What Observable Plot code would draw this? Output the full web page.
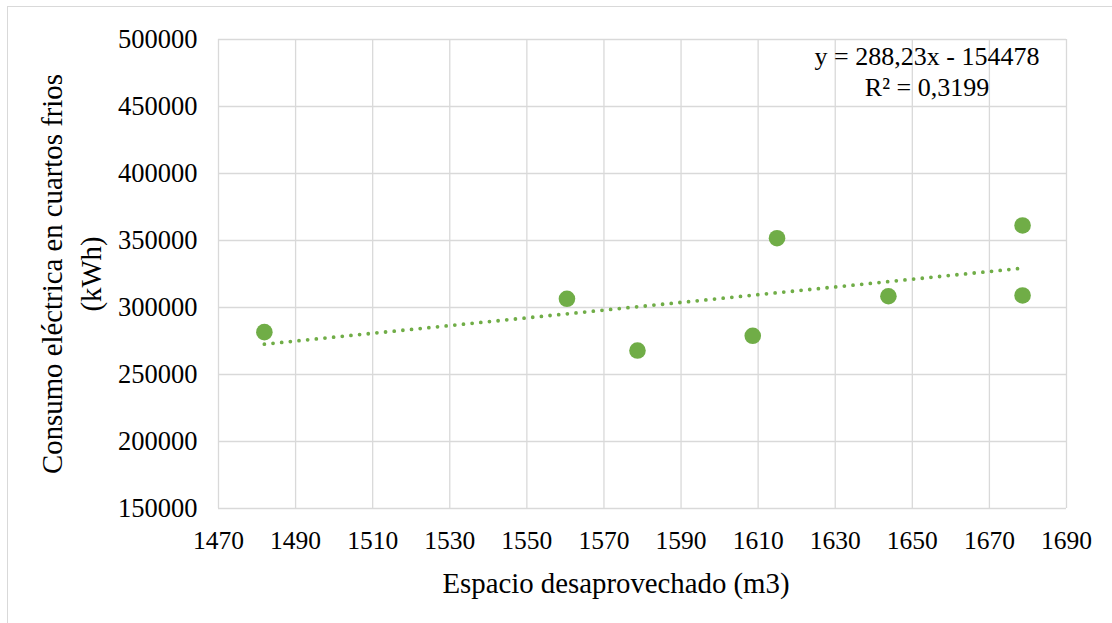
<!DOCTYPE html>
<html>
<head>
<meta charset="utf-8">
<script src="https://cdn.jsdelivr.net/npm/d3@7"></script>
<script src="https://cdn.jsdelivr.net/npm/@observablehq/plot@0.6"></script>
<style>
  html, body { margin: 0; padding: 0; background: #fff; }
  #wrap { position: relative; width: 1112px; height: 623px; overflow: hidden; }
  #border { position: absolute; left: 7px; top: 6px; width: 1200px; height: 700px;
            border-left: 1.4px solid #d9d9d9; border-top: 1.4px solid #d9d9d9; pointer-events: none; }
  #chart svg { display: block; }
</style>
</head>
<body>
<div id="wrap"><div id="chart"></div><div id="border"></div></div>
<script>
// ---- data ----
const espacio = [1481.9, 1560.4, 1578.7, 1608.6, 1614.9, 1643.8, 1678.6, 1678.6];
const consumo = [281600, 306500, 267900, 278900, 351700, 308400, 361200, 309000];
const xTicks = [1470, 1490, 1510, 1530, 1550, 1570, 1590, 1610, 1630, 1650, 1670, 1690];
const yTicks = [150000, 200000, 250000, 300000, 350000, 400000, 450000, 500000];
const trendSlope = 288.23;
const trendIntercept = -154478;
const equationLines = ["y = 288,23x - 154478", "R² = 0,3199"];
const xTitle = "Espacio desaprovechado (m3)";
const yTitleLines = ["Consumo eléctrica en cuartos frios", "(kWh)"];

// ---- derived tables ----
const points = espacio.map((x, i) => ({x, y: consumo[i]}));
const xExtent = d3.extent(espacio);
const trend = xExtent.map(x => ({x, y: trendSlope * x + trendIntercept}));

const green = "#70AD47";
const gridColor = "#d9d9d9";
const font = "'Liberation Serif', 'Times New Roman', serif";

const chart = Plot.plot({
  width: 1112,
  height: 623,
  marginLeft: 218,
  marginRight: 46,
  marginTop: 39,
  marginBottom: 115,
  style: {fontFamily: font, fontSize: "26px", color: "#000", background: "#fff"},
  x: {domain: [1470, 1690]},
  y: {domain: [150000, 500000]},
  marks: [
    Plot.gridX(xTicks, {stroke: gridColor, strokeOpacity: 1, strokeWidth: 1.3}),
    Plot.gridY(yTicks, {stroke: gridColor, strokeOpacity: 1, strokeWidth: 1.3}),
    Plot.axisX(xTicks, {tickSize: 0, tickPadding: 22, tickFormat: d => String(d), label: null, fontSize: 25.5}),
    Plot.axisY(yTicks, {tickSize: 0, tickPadding: 21, tickFormat: d => String(d), label: null, fontSize: 26.5}),
    Plot.line(trend, {x: "x", y: "y", stroke: green, strokeWidth: 3.8,
      strokeDasharray: "0 8.7", strokeLinecap: "round"}),
    Plot.dot(points, {x: "x", y: "y", r: 8.3, fill: green, stroke: "none"}),
    Plot.text([equationLines.join("\n")], {
      frameAnchor: "top-right", dx: -139.5, dy: 31.2, textAnchor: "middle",
      lineAnchor: "middle", lineHeight: 1.19, fontSize: 26, fill: "#000"
    }),
    Plot.text([xTitle], {
      frameAnchor: "bottom", dx: -26.5, dy: 75.5, textAnchor: "middle",
      lineAnchor: "middle", fontSize: 28.8, fill: "#000"
    }),
    Plot.text([yTitleLines.join("\n")], {
      frameAnchor: "left", dx: -149.8, rotate: -90, textAnchor: "middle",
      lineAnchor: "middle", lineHeight: 1.35, fontSize: 28.8, fill: "#000"
    })
  ]
});
document.getElementById("chart").appendChild(chart);
</script>
</body>
</html>
